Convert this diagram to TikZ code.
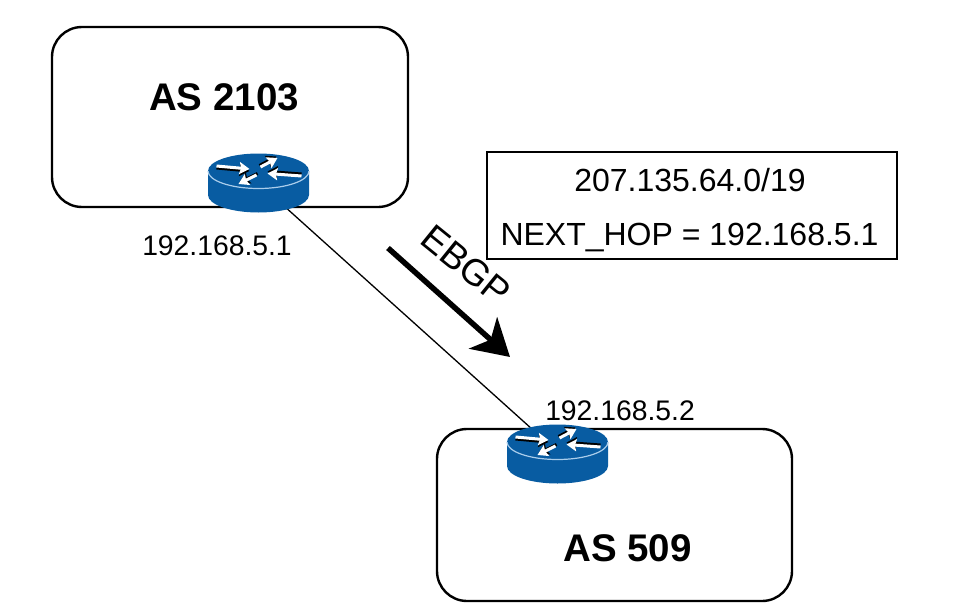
\documentclass[tikz,border=0pt]{standalone}
\usepackage{fontspec}
\setmainfont{Liberation Sans}
\usetikzlibrary{arrows.meta}
\definecolor{routerblue}{RGB}{8,92,162}
\definecolor{routerrim}{RGB}{170,205,235}
\tikzset{
  asbox/.style={draw,line width=2.4pt,rounded corners=30pt},
  infobox/.style={draw,line width=2.2pt},
  iplabel/.style={font=\fontsize{28.3}{30}\selectfont,inner sep=0pt},
  infolabel/.style={font=\fontsize{32}{34}\selectfont,inner sep=0pt},
  aslabel/.style={font=\fontsize{38.5}{40}\selectfont\bfseries,inner sep=0pt},
  flowlabel/.style={font=\fontsize{37}{40}\selectfont,inner sep=0pt,rotate=-39},
  linkline/.style={line width=1.3pt},
  flowarrow/.style={line width=5.5pt,-{Stealth[length=36pt,width=42pt,inset=10pt]}},
  rtrshade/.style={line width=3pt,-{Stealth[length=10pt,width=12pt,inset=1.5pt]}},
  rtrarrow/.style={white,line width=3pt,-{Stealth[length=10pt,width=12pt,inset=1.5pt]}},
  router/.pic={
    \fill[routerblue] (-50.5,0) -- (-50.5,24) arc[start angle=180,end angle=0,x radius=50.5,y radius=17.5] -- (50.5,0) -- cycle;
    \fill[routerblue] (0,0) ellipse[x radius=50.5,y radius=17.5];
    \draw[routerrim,line width=1.2pt] (-50.5,0) arc[start angle=180,end angle=0,x radius=50.5,y radius=17.5];
    \draw[rtrshade] (-42,-3) -- (-9,0);
    \draw[rtrshade] (1,-5.5) -- (18,-14.5);
    \draw[rtrshade] (43,3) -- (9,0.5);
    \draw[rtrshade] (-1,2.5) -- (-19,11.5);
    \draw[rtrarrow] (-42,-5) -- (-9,-2);
    \draw[rtrarrow] (2,-4) -- (19,-13);
    \draw[rtrarrow] (43,5) -- (9,2.5);
    \draw[rtrarrow] (-2,4) -- (-20,13);
  }
}
\begin{document}
\begin{tikzpicture}[x=1pt,y=-1pt]
  \useasboundingbox (0,0) rectangle (966,610);
  \node[asbox,minimum width=356pt,minimum height=180pt](as2103) at (230,117) {};
  \node[asbox,minimum width=355pt,minimum height=172pt](as509) at (614.5,515) {};
  \node[infobox,minimum width=410pt,minimum height=107pt](prefixbox) at (692,205.5) {};
  \coordinate(rtrtop) at (258.5,183);
  \coordinate(rtrbottom) at (557.5,452);
  \draw[linkline] (rtrtop) -- (rtrbottom);
  \pic at (258.5,171) {router};
  \pic at (557.5,442) {router};
  \node[aslabel](as2103label) at (224,97) {AS 2103};
  \node[aslabel](as509label) at (627.5,548) {AS 509};
  \node[iplabel](iptop) at (217,246) {192.168.5.1};
  \node[iplabel](ipbottom) at (620,410.5) {192.168.5.2};
  \node[infolabel](prefixlabel) at (690,180) {207.135.64.0/19};
  \node[infolabel](hoplabel) at (689.5,238) {NEXT\_HOP = 192.168.5.1};
  \coordinate(flowstart) at (388,248);
  \coordinate(flowend) at (510,357);
  \draw[flowarrow] (flowstart) -- (flowend);
  \node[flowlabel](flowlabel) at (466,265) {EBGP};
\end{tikzpicture}
\end{document}
